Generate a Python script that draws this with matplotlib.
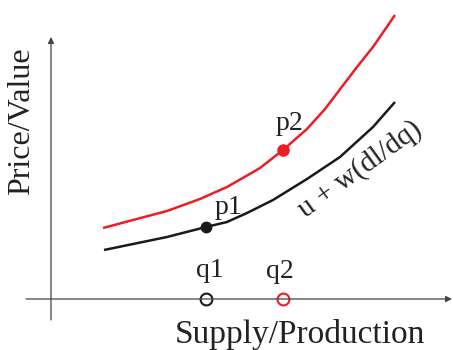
import matplotlib
matplotlib.use("Agg")
import matplotlib.pyplot as plt

plt.rcParams['font.family'] = ['Liberation Serif', 'DejaVu Serif']

# curves (origin at the axis crossing)
red_x = [0.52, 0.82, 1.16, 1.49, 1.76, 1.97, 2.09, 2.32, 2.56, 2.74, 2.90, 3.06, 3.22, 3.44]
red_y = [0.71, 0.79, 0.88, 1.00, 1.12, 1.24, 1.31, 1.49, 1.70, 1.90, 2.11, 2.32, 2.52, 2.84]
black_x = [0.53, 0.82, 1.16, 1.55, 1.76, 1.96, 2.22, 2.56, 2.89, 3.22, 3.44]
black_y = [0.49, 0.55, 0.62, 0.72, 0.77, 0.86, 0.99, 1.20, 1.42, 1.72, 1.97]

# marked points
q1, q2 = 1.55, 2.32
p1, p2 = 0.72, 1.49

fig = plt.figure(figsize=(4.53, 3.5), dpi=100)
ax = fig.add_axes([0, 0, 1, 1])
ax.set_xlim(-0.51, 4.02)
ax.set_ylim(-0.51, 2.99)
ax.axis('off')

axis_col = '#444444'
# axes with arrow heads
ax.annotate('', xy=(4.01, 0), xytext=(-0.25, 0),
            arrowprops=dict(arrowstyle='-|>', mutation_scale=9, lw=0.9,
                            color=axis_col, shrinkA=0, shrinkB=0))
ax.annotate('', xy=(0, 2.62), xytext=(0, -0.21),
            arrowprops=dict(arrowstyle='-|>', mutation_scale=9, lw=0.9,
                            color=axis_col, shrinkA=0, shrinkB=0))

ax.plot(red_x, red_y, color='#ee1c25', lw=1.8, solid_capstyle='butt',
        solid_joinstyle='round')
ax.plot(black_x, black_y, color='#1a1a1a', lw=1.8, solid_capstyle='butt',
        solid_joinstyle='round')

ax.plot([q1], [p1], 'o', color='#1a1a1a', ms=7.5)
ax.plot([q2], [p2], 'o', color='#ee1c25', ms=8)
ax.plot([q1], [0], 'o', mfc='white', mec='#1a1a1a', ms=8.5, mew=1.5)
ax.plot([q2], [0], 'o', mfc='white', mec='#ee1c25', ms=8.5, mew=1.5)

ax.text(q1 + 0.04, 0.22, 'q1', fontsize=20, ha='center', va='baseline', color='#222222')
ax.text(q2 - 0.03, 0.21, 'q2', fontsize=20, ha='center', va='baseline', color='#222222')
ax.text(q1 + 0.22, p1 + 0.13, 'p1', fontsize=20, ha='center', va='baseline', color='#222222')
ax.text(q2 + 0.06, p2 + 0.20, 'p2', fontsize=20, ha='center', va='baseline', color='#222222')

ax.text(3.09, 1.30, 'u + w(dl/dq)', fontsize=21, rotation=36, rotation_mode='anchor',
        ha='center', va='center', color='#222222')

ax.text(-0.29, 1.78, 'Price/Value', fontsize=23, rotation=90, ha='center', va='center',
        color='#222222')
ax.text(2.49, -0.44, 'Supply/Production', fontsize=24, ha='center', va='baseline',
        color='#222222')

fig.savefig('out.png', dpi=100)
